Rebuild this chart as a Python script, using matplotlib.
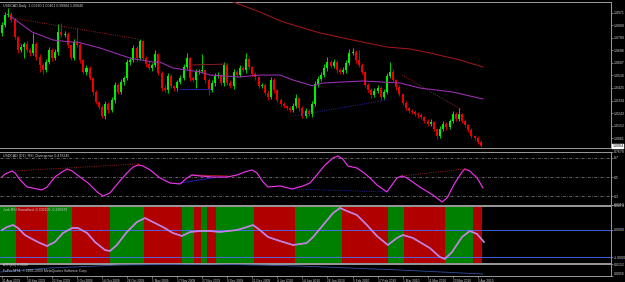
import matplotlib
matplotlib.use("Agg")
import matplotlib.pyplot as plt
from matplotlib.transforms import blended_transform_factory

plt.rcParams['font.family'] = ['Liberation Sans', 'DejaVu Sans']

# ---------------- data ----------------
first_open = 1.0824
closes = [
    1.0882, 1.0954, 1.0962, 1.0918, 1.0795, 1.0700, 1.0722, 1.0744, 1.0700, 1.0679,
    1.0744, 1.0650, 1.0592, 1.0555, 1.0613, 1.0700, 1.0642, 1.0686, 1.0831, 1.0809,
    1.0817, 1.0737, 1.0642, 1.0759, 1.0737, 1.0628, 1.0541, 1.0570, 1.0498, 1.0396,
    1.0324, 1.0287, 1.0222, 1.0309, 1.0266, 1.0338, 1.0447, 1.0396, 1.0468, 1.0498,
    1.0613, 1.0628, 1.0715, 1.0642, 1.0766, 1.0642, 1.0599, 1.0570, 1.0592, 1.0672,
    1.0534, 1.0425, 1.0411, 1.0512, 1.0440, 1.0425, 1.0468, 1.0498, 1.0577, 1.0642,
    1.0498, 1.0483, 1.0541, 1.0548, 1.0555, 1.0483, 1.0411, 1.0461, 1.0512, 1.0519,
    1.0461, 1.0592, 1.0461, 1.0440, 1.0541, 1.0519, 1.0570, 1.0555, 1.0635, 1.0577,
    1.0526, 1.0505, 1.0440, 1.0447, 1.0389, 1.0360, 1.0483, 1.0411, 1.0338, 1.0309,
    1.0295, 1.0280, 1.0266, 1.0295, 1.0353, 1.0280, 1.0222, 1.0258, 1.0236, 1.0309,
    1.0454, 1.0490, 1.0519, 1.0570, 1.0613, 1.0585, 1.0613, 1.0555, 1.0541, 1.0555,
    1.0606, 1.0679, 1.0686, 1.0628, 1.0592, 1.0541, 1.0447, 1.0411, 1.0374, 1.0403,
    1.0425, 1.0360, 1.0396, 1.0512, 1.0541, 1.0483, 1.0432, 1.0382, 1.0316, 1.0280,
    1.0258, 1.0251, 1.0236, 1.0229, 1.0215, 1.0186, 1.0164, 1.0179, 1.0128, 1.0077,
    1.0128, 1.0164, 1.0142, 1.0186, 1.0236, 1.0200, 1.0236, 1.0186, 1.0157, 1.0121,
    1.0077, 1.0063, 1.0032, 1.0004,
]
upper_wick_pips = [
    20, 25, 45, 15, 15, 10, 20, 15, 20, 15,
    80, 15, 20, 15, 20, 25, 15, 20, 60, 65,
    20, 15, 10, 20, 100, 15, 10, 20, 15, 10,
    15, 10, 15, 20, 15, 25, 20, 15, 20, 15,
    25, 20, 20, 15, 15, 10, 15, 20, 15, 30,
    10, 15, 20, 25, 15, 10, 15, 20, 25, 40,
    10, 15, 20, 15, 120, 10, 15, 20, 20, 25,
    10, 25, 15, 20, 25, 15, 20, 15, 45, 15,
    10, 15, 10, 15, 15, 20, 25, 15, 10, 15,
    15, 10, 15, 20, 30, 10, 15, 20, 15, 25,
    20, 20, 25, 30, 35, 15, 20, 15, 15, 20,
    20, 30, 30, 15, 70, 15, 10, 15, 15, 20,
    20, 15, 20, 25, 70, 20, 10, 15, 10, 15,
    10, 15, 15, 15, 15, 10, 15, 20, 10, 10,
    20, 20, 15, 15, 20, 15, 45, 10, 15, 10,
    15, 10, 15, 14,
]
lower_wick_pips = [
    20, 15, 15, 15, 15, 20, 15, 80, 15, 20,
    15, 20, 50, 25, 15, 15, 20, 15, 20, 15,
    15, 20, 15, 15, 15, 20, 15, 20, 15, 20,
    15, 15, 15, 20, 20, 15, 20, 15, 15, 20,
    15, 20, 15, 20, 15, 15, 20, 15, 25, 15,
    15, 20, 15, 20, 15, 20, 25, 15, 15, 15,
    20, 15, 60, 15, 15, 20, 35, 15, 20, 15,
    15, 20, 15, 15, 20, 15, 15, 15, 20, 15,
    15, 20, 15, 15, 15, 25, 15, 20, 15, 15,
    15, 15, 15, 15, 15, 20, 15, 15, 15, 20,
    15, 20, 15, 15, 20, 15, 15, 20, 15, 15,
    20, 15, 15, 20, 15, 15, 15, 15, 20, 15,
    15, 20, 15, 15, 15, 15, 20, 15, 15, 15,
    15, 15, 15, 20, 15, 15, 15, 15, 15, 20,
    15, 15, 20, 15, 15, 15, 15, 15, 15, 15,
    15, 15, 15, 6,
]

purple_ma_x = [2.5, 3.5, 9.6, 16.3, 21.7, 24.0, 31.3, 40.9, 48.2, 50.5, 54.6, 63.3,
               66.5, 76.0, 82.4, 88.8, 93.0, 99.4, 102.5, 115.3, 127.2, 133.5, 144.0, 153.7]
purple_ma = [1.0947, 1.0932, 1.0831, 1.0773, 1.0759, 1.0759, 1.0715, 1.0642, 1.0613, 1.0613,
             1.0570, 1.0541, 1.0519, 1.0505, 1.0519, 1.0519, 1.0483, 1.0440, 1.0461, 1.0476,
             1.0461, 1.0425, 1.0396, 1.0345]
red_ma_x = [70.0, 72.2, 82.4, 89.8, 101.6, 112.1, 123.0, 130.4, 136.7, 146.3, 153.7]
red_ma = [1.1092, 1.1063, 1.0976, 1.0904, 1.0824, 1.0773, 1.0722, 1.0708, 1.0679, 1.0628, 1.0577]

# divergence lines: (x0, y0, x1, y1)
price_div_red_dotted = [(3.5, 1.0932, 43.5, 1.0780), (127.8, 1.0519, 147.0, 1.0266)]
price_div_red_solid = [(60.7, 1.0592, 71.9, 1.0599)]
price_div_blue_solid = [(56.9, 1.0418, 66.5, 1.0418)]
price_div_blue_dotted = [(93.0, 1.0222, 123.0, 1.0338)]

rsi_x = [0, 1.0, 3.2, 4.2, 5.8, 8.0, 9.6, 12.8, 14.4, 16.9, 19.2, 20.8, 22.4, 24.9, 27.5,
         30.4, 32.3, 34.5, 37.1, 39.9, 41.9, 43.5, 45.0, 47.3, 50.5, 53.7, 56.9, 59.1, 60.7,
         63.3, 67.4, 71.9, 75.1, 77.6, 79.9, 81.5, 83.4, 85.0, 88.8, 92.7, 96.2, 98.4, 100.6,
         103.2, 105.8, 107.3, 108.9, 110.5, 113.4, 115.3, 117.6, 119.8, 123.0, 124.6, 126.2,
         127.8, 129.4, 133.5, 137.7, 140.6, 142.2, 144.7, 147.0, 147.9, 149.5, 151.8, 153.7]
rsi = [0.500, 0.532, 0.563, 0.542, 0.469, 0.395, 0.385, 0.364, 0.395, 0.500, 0.553, 0.584,
       0.563, 0.500, 0.437, 0.343, 0.300, 0.332, 0.437, 0.542, 0.605, 0.626, 0.616, 0.574,
       0.490, 0.437, 0.427, 0.490, 0.521, 0.511, 0.500, 0.500, 0.521, 0.553, 0.574, 0.542,
       0.448, 0.395, 0.406, 0.374, 0.406, 0.437, 0.521, 0.626, 0.700, 0.721, 0.689, 0.616,
       0.595, 0.553, 0.490, 0.416, 0.343, 0.416, 0.490, 0.511, 0.490, 0.395, 0.311, 0.238,
       0.280, 0.437, 0.553, 0.584, 0.563, 0.490, 0.385]
rsi_levels = [0.3, 0.5, 0.7]
rsi_div_red_dotted = [(3.5, 0.563, 43.5, 0.637), (127.8, 0.511, 147.9, 0.584)]
rsi_div_red_solid = [(60.7, 0.521, 71.9, 0.511)]
rsi_div_blue_solid = [(56.9, 0.437, 67.4, 0.490)]
rsi_div_blue_dotted = [(92.7, 0.374, 123.0, 0.343)]
rsi_marks_x = [20.8, 43.5, 71.9, 147.9]
rsi_marks = [0.584, 0.637, 0.511, 0.584]

jurk_x = [0, 1.6, 3.5, 5.1, 7.3, 9.6, 12.1, 14.4, 16.9, 19.5, 22.4, 24.3, 27.2, 29.7, 32.9,
          34.5, 36.7, 39.9, 43.1, 45.7, 48.2, 51.4, 54.6, 57.5, 60.1, 63.3, 66.5, 69.6, 75.1,
          78.3, 80.2, 82.4, 85.0, 88.8, 93.0, 97.4, 99.4, 102.6, 105.8, 108.0, 110.2, 113.4,
          116.6, 119.8, 123.3, 126.2, 128.1, 131.3, 136.7, 139.9, 141.5, 143.8, 147.0, 149.5,
          151.8, 154.0]
jurk = [0.0, 0.111, 0.185, 0.074, -0.185, -0.333, -0.481, -0.593, -0.444, -0.111, 0.074,
        0.074, -0.111, -0.444, -0.741, -0.778, -0.556, -0.074, 0.296, 0.444, 0.296, 0.111,
        -0.111, -0.222, -0.074, -0.037, -0.037, -0.074, 0.0, 0.111, 0.185, 0.0, -0.259,
        -0.407, -0.556, -0.481, -0.259, 0.185, 0.630, 0.815, 0.704, 0.556, 0.185, -0.222,
        -0.556, -0.296, -0.185, -0.296, -0.667, -1.0, -1.074, -0.815, -0.259, -0.037,
        -0.148, -0.444]
jurk_levels = [0.0, -1.0]
band_states = ['G', 'R', 'G', 'R', 'G', 'R', 'G', 'R', 'G', 'R', 'G', 'R', 'G', 'R', 'G', 'R', 'G', 'R']
band_lengths = [5, 10, 8, 12, 11, 12, 4, 2, 2, 3, 12, 13, 15, 15, 5, 13, 9, 3]

atr_x = [-0.6, 15.3, 37.7, 66.5, 95.2, 127.0, 153.7]
atr = [0.00867, 0.01174, 0.01405, 0.01482, 0.01328, 0.01021, 0.00714]

date_ticks = [0, 8, 16, 24, 32, 40, 48, 56, 64, 72, 80, 88, 96, 104, 112, 120, 128, 136, 144, 152]
date_labels = ['31 Aug 2009', '10 Sep 2009', '22 Sep 2009', '2 Oct 2009', '14 Oct 2009',
               '26 Oct 2009', '5 Nov 2009', '17 Nov 2009', '27 Nov 2009', '9 Dec 2009',
               '21 Dec 2009', '4 Jan 2010', '14 Jan 2010', '26 Jan 2010', '5 Feb 2010',
               '17 Feb 2010', '1 Mar 2010', '11 Mar 2010', '23 Mar 2010', '2 Apr 2010']
price_ticks = [1.0061, 1.0152, 1.0243, 1.0334, 1.0425, 1.0516, 1.0607, 1.0698, 1.0789, 1.0880, 1.0971]
last_price = 1.0004

# ---------------- layout ----------------
W, H = 625, 282
fig = plt.figure(figsize=(W / 100, H / 100), dpi=100, facecolor='black')
XMIN, XMAX = -0.64, 194.6
GRAY = '#9a9a9a'
TXT = '#d0d0d0'
FS = 2.5


def mk(top, bot, ylo, yhi):
    ax = fig.add_axes([0, 1 - bot / H, 611 / W, (bot - top) / H])
    ax.set_facecolor('black')
    ax.set_xlim(XMIN, XMAX)
    ax.set_ylim(ylo, yhi)
    ax.spines['left'].set_visible(False)
    for s in ['top', 'bottom', 'right']:
        ax.spines[s].set_color(GRAY)
        ax.spines[s].set_linewidth(0.7)
    ax.set_xticks([])
    ax.yaxis.tick_right()
    ax.tick_params(axis='y', colors=TXT, labelsize=FS, length=1.5, width=0.4, pad=0.8)
    return ax


ax_main = mk(1.5, 147.5, 0.99936, 1.10521)
ax_rsi = mk(151.5, 204.5, 0.2113, 0.7678)
ax_jurk = mk(205.5, 262.5, -1.2037, 0.9074)
ax_atr = mk(263.5, 276.0, 0.0056, 0.0152)

# ---------------- main candles ----------------
n = len(closes)
opens = [first_open] + closes[:-1]
xs = list(range(n))
cols, bottoms, heights, highs, lows = [], [], [], [], []
for o, c, u, d in zip(opens, closes, upper_wick_pips, lower_wick_pips):
    up = c >= o
    cols.append('#00ee00' if up else '#ee0000')
    bottoms.append(min(o, c))
    heights.append(max(abs(c - o), 0.00025))
    highs.append(max(o, c) + u * 0.0001)
    lows.append(min(o, c) - d * 0.0001)
ax_main.vlines(xs, lows, highs, colors=cols, linewidth=0.6, zorder=3)
ax_main.bar(xs, heights, bottom=bottoms, width=0.64, color=cols, linewidth=0, zorder=4)

ax_main.plot(purple_ma_x, purple_ma, color='#a030b8', lw=0.75, zorder=5)
ax_main.plot(red_ma_x, red_ma, color='#a01818', lw=0.75, zorder=5)
for x0, y0, x1, y1 in price_div_red_dotted:
    ax_main.plot([x0, x1], [y0, y1], color='#b02020', lw=0.6, ls=(0, (1.2, 1.5)), zorder=5)
for x0, y0, x1, y1 in price_div_red_solid:
    ax_main.plot([x0, x1], [y0, y1], color='#a02020', lw=0.6, zorder=5)
for x0, y0, x1, y1 in price_div_blue_solid:
    ax_main.plot([x0, x1], [y0, y1], color='#2020b0', lw=0.7, zorder=5)
for x0, y0, x1, y1 in price_div_blue_dotted:
    ax_main.plot([x0, x1], [y0, y1], color='#2828b8', lw=0.6, ls=(0, (1.2, 1.5)), zorder=5)

ax_main.set_yticks(price_ticks)
ax_main.set_yticklabels([f'{v:.4f}' for v in price_ticks])
tr = blended_transform_factory(ax_main.transAxes, ax_main.transData)
ax_main.text(1.003, last_price, f'{last_price:.4f}', transform=tr, fontsize=FS, color='black',
             va='center', ha='left',
             bbox=dict(boxstyle='square,pad=0.15', fc='white', ec='white', lw=0.3))

# ---------------- RSI divergence ----------------
for lv in rsi_levels:
    ax_rsi.axhline(lv, color='#8a8a8a', lw=0.5, ls=(0, (4, 2, 1, 2)), zorder=1)
ax_rsi.plot(rsi_x, rsi, color='#ee33ee', lw=0.85, zorder=4)
for x0, y0, x1, y1 in rsi_div_red_dotted:
    ax_rsi.plot([x0, x1], [y0, y1], color='#b02020', lw=0.6, ls=(0, (1.2, 1.5)), zorder=3)
for x0, y0, x1, y1 in rsi_div_red_solid:
    ax_rsi.plot([x0, x1], [y0, y1], color='#b02020', lw=0.6, zorder=3)
for x0, y0, x1, y1 in rsi_div_blue_solid:
    ax_rsi.plot([x0, x1], [y0, y1], color='#2020b0', lw=0.7, zorder=3)
for x0, y0, x1, y1 in rsi_div_blue_dotted:
    ax_rsi.plot([x0, x1], [y0, y1], color='#2828b8', lw=0.6, ls=(0, (1.2, 1.5)), zorder=3)
ax_rsi.scatter(rsi_marks_x, rsi_marks, s=1.5, color='#ff2020', zorder=5, linewidths=0)
rsi_lo, rsi_hi = ax_rsi.get_ylim()
ax_rsi.set_yticks([rsi_lo, 0.3, 0.5, 0.7, rsi_hi])
ax_rsi.set_yticklabels([f'{rsi_lo:.4f}', '0.3', '0.5', '0.7', f'{rsi_hi:.4f}'])

# ---------------- Jurk RSI ----------------
jl, jh = ax_jurk.get_ylim()
band_x, band_c = [], []
pos = 0
for st, ln in zip(band_states, band_lengths):
    for k in range(ln):
        band_x.append(pos + k)
        band_c.append('#008000' if st == 'G' else '#b00000')
    pos += ln
ax_jurk.bar(band_x, [jh - jl] * len(band_x), bottom=jl, width=1.0, color=band_c,
            linewidth=0, zorder=1)
for lv in jurk_levels:
    ax_jurk.axhline(lv, color='#4a6cff', lw=0.6, zorder=2)
ax_jurk.plot(jurk_x, jurk, color='#9aa0d8', lw=1.25, zorder=3)
ax_jurk.plot(jurk_x, jurk, color='#f060f0', lw=0.55, zorder=4)
ax_jurk.set_yticks([-1.0, 0.0, jh])
ax_jurk.set_yticklabels(['-1.0000', '0.0000', f'{jh:.4f}'])

# ---------------- ATR ----------------
ax_atr.plot(atr_x, atr, color='#3050a0', lw=0.6, zorder=3)
al, ah = ax_atr.get_ylim()
ax_atr.set_yticks([al, ah])
ax_atr.set_yticklabels([f'{al:.4f}', f'{ah:.4f}'])
labs = ax_atr.get_yticklabels()
labs[0].set_va('bottom')
labs[1].set_va('top')

ax_atr.set_xticks(date_ticks)
ax_atr.set_xticklabels(date_labels)
ax_atr.tick_params(axis='x', colors=TXT, labelsize=2.3, length=1.5, width=0.4, pad=0.6)
for t in ax_atr.get_xticklabels():
    t.set_ha('left')

# ---------------- titles ----------------
def ftext(x, y, s):
    fig.text(x / W, 1 - y / H, s, fontsize=FS, color=TXT, va='center', ha='left', zorder=10)

ftext(3, 5.5, 'USDCAD,Daily  1.00320 1.00461 0.99984 1.00040')
ftext(3, 156.5, 'USDCAD (D1)  RSI_Divergence 0.478245')
ftext(3, 210, 'Jurk RSI Smoothed -0.306109 -0.238979')
ftext(3, 265, 'ATR(60) 0.0089')
ftext(3, 271, 'FxPro MT4, \u00a9 2001-2009 MetaQuotes Software Corp.')

fig.savefig('out.png', dpi=100, facecolor='black')
